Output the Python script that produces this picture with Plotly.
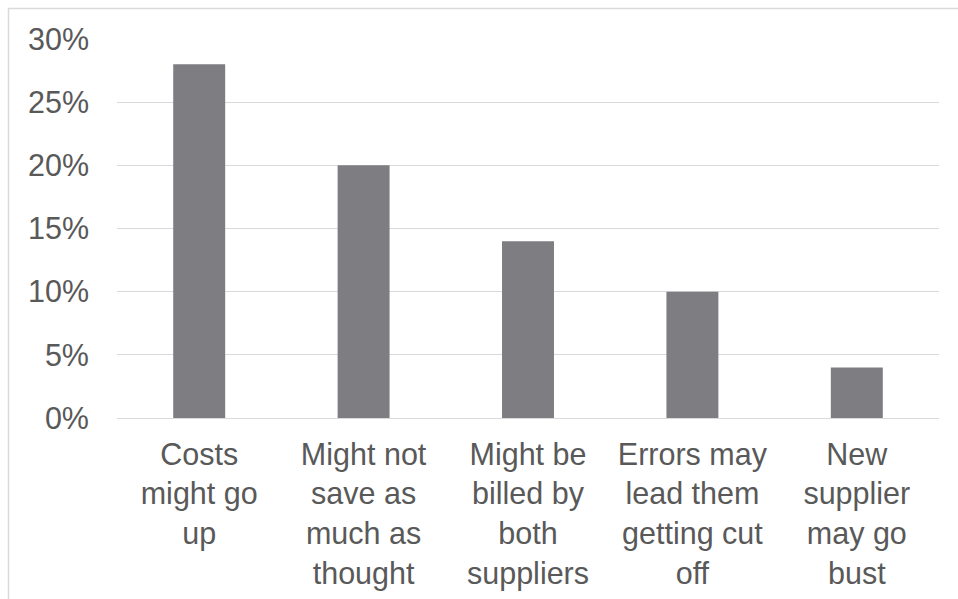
import plotly.graph_objects as go

# Survey responses: concerns about switching energy supplier
categories = [
    "Costs<br>might go<br>up",
    "Might not<br>save as<br>much as<br>thought",
    "Might be<br>billed by<br>both<br>suppliers",
    "Errors may<br>lead them<br>getting cut<br>off",
    "New<br>supplier<br>may go<br>bust",
]
shares = [0.28, 0.20, 0.14, 0.10, 0.04]
y_ticks = [0, 0.05, 0.10, 0.15, 0.20, 0.25, 0.30]

W, H = 958, 599
L, R, T, B = 117, 19, 39, 181
pw, ph = W - L - R, H - T - B

fig = go.Figure(
    go.Bar(
        x=list(range(len(categories))),
        y=shares,
        marker=dict(color="#7e7d82", line=dict(width=0)),
        hoverinfo="skip",
    )
)

text_col = "#595959"
grid_col = "#d9d9d9"

fig.update_layout(
    width=W,
    height=H,
    margin=dict(l=L, r=R, t=T, b=B, pad=0),
    paper_bgcolor="white",
    plot_bgcolor="white",
    bargap=0.684,
    showlegend=False,
    font=dict(family="Liberation Sans, Arial, sans-serif", color=text_col),
    xaxis=dict(
        tickmode="array",
        tickvals=list(range(len(categories))),
        ticktext=categories,
        range=[-0.5, len(categories) - 0.5],
        showgrid=False,
        showline=True,
        linecolor=grid_col,
        linewidth=1,
        ticks="",
        tickfont=dict(size=30.5, color=text_col),
        ticklabelstandoff=9,
        automargin=False,
        fixedrange=True,
    ),
    yaxis=dict(
        range=[0, 0.30],
        tickmode="array",
        tickvals=y_ticks,
        tickformat=".0%",
        showgrid=True,
        gridcolor=grid_col,
        gridwidth=1,
        zeroline=False,
        showline=False,
        ticks="",
        tickfont=dict(size=30.5, color=text_col),
        ticklabelstandoff=27,
        automargin=False,
        fixedrange=True,
    ),
)

# Outer chart frame (left and top edges visible)
fig.add_shape(
    type="rect",
    xref="paper",
    yref="paper",
    x0=(8.5 - L) / pw,
    x1=(W + 20 - L) / pw,
    y0=(H - B - (H + 20)) / ph,
    y1=(H - B - 8.5) / ph,
    line=dict(color=grid_col, width=1.5),
    fillcolor="rgba(0,0,0,0)",
    layer="below",
)

fig.write_html("out.html")
